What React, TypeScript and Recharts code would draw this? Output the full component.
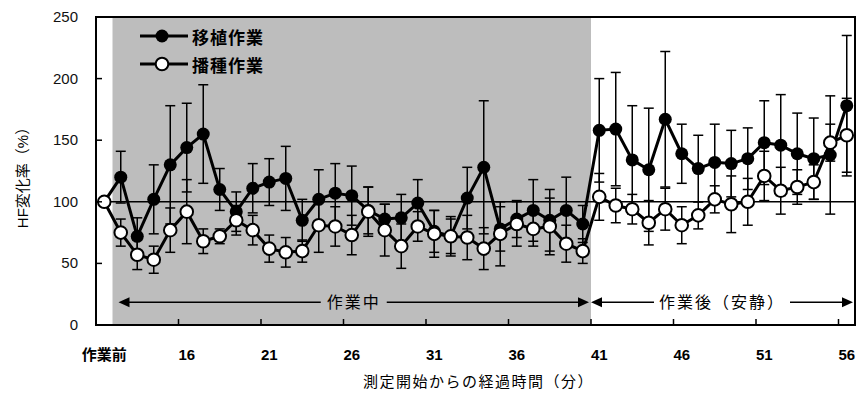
import React from "react";
import {
  LineChart,
  Line,
  XAxis,
  YAxis,
  ErrorBar,
  ReferenceArea,
  ReferenceLine,
  Label,
} from "recharts";

// minutes from start of measurement (first point = before work)
const times = [
  "作業前", "12", "13", "14", "15", "16", "17", "18", "19", "20",
  "21", "22", "23", "24", "25", "26", "27", "28", "29", "30",
  "31", "32", "33", "34", "35", "36", "37", "38", "39", "40",
  "41", "42", "43", "44", "45", "46", "47", "48", "49", "50",
  "51", "52", "53", "54", "55", "56",
];

// 移植作業 (filled)
const transplant = [
  100, 120, 72, 102, 130, 144, 155, 110, 92, 111,
  116, 119, 85, 102, 107, 105, 93, 86, 87, 99,
  76, 72, 103, 128, 78, 86, 93, 85, 93, 82,
  158, 159, 134, 126, 167, 139, 127, 132, 131, 135,
  148, 146, 139, 135, 138, 178,
];
const transplantSd = [
  0, 21, 15, 28, 48, 36, 40, 17, 16, 20,
  19, 26, 17, 24, 24, 24, 19, 12, 19, 19,
  17, 16, 25, 54, 18, 15, 25, 25, 27, 15,
  42, 46, 44, 50, 55, 24, 27, 31, 27, 25,
  34, 41, 33, 33, 48, 57,
];

// 播種作業 (open)
const seeding = [
  100, 75, 57, 53, 77, 92, 68, 72, 85, 77,
  62, 59, 60, 81, 80, 73, 92, 77, 64, 80,
  74, 72, 71, 62, 74, 82, 78, 80, 66, 60,
  104, 97, 94, 83, 94, 81, 89, 102, 98, 100,
  121, 109, 112, 116, 148, 154,
];
const seedingSd = [
  0, 11, 12, 11, 18, 26, 10, 6, 12, 12,
  11, 12, 9, 22, 16, 16, 20, 21, 18, 12,
  19, 14, 18, 17, 26, 18, 14, 23, 15, 10,
  19, 14, 12, 18, 17, 15, 11, 11, 23, 19,
  20, 19, 14, 14, 15, 30,
];

const yTicks = [0, 50, 100, 150, 200, 250];

const data = times.map((t, i) => ({
  t,
  transplant: transplant[i],
  transplantSd: transplantSd[i],
  seeding: seeding[i],
  seedingSd: seedingSd[i],
}));

const W = 857;
const H = 417;
const margin = { top: 17, right: 2, bottom: 62, left: 0 };
const Y_AXIS_W = 96;
const PLOT_W = W - margin.left - margin.right - Y_AXIS_W;
const FONT = "'Liberation Sans', Arial, 'Noto Sans CJK JP', sans-serif";

function XTick({ x, y, payload }: any) {
  const half = PLOT_W / times.length / 2;
  return (
    <g>
      <line x1={x - half} x2={x - half} y1={y} y2={y - 6} stroke="#000" strokeWidth={1.5} />
      <text x={x} y={y + 35} textAnchor="middle" fontSize={15} fontWeight="bold" fill="#000" fontFamily={FONT}>
        {payload.value}
      </text>
    </g>
  );
}

function YTick({ x, y, payload }: any) {
  return (
    <g>
      <line x1={x} x2={x + 6} y1={y} y2={y} stroke="#000" strokeWidth={1.5} />
      <text x={x - 18} y={y + 5} textAnchor="end" fontSize={15} fill="#111" fontFamily={FONT}>
        {payload.value}
      </text>
    </g>
  );
}

function Span({ x, y, width, height, text, inset, gap }: any) {
  const cy = y + height / 2;
  const x1 = x + inset;
  const x2 = x + width - 2;
  const cx = (x1 + x2) / 2;
  return (
    <g>
      <line x1={x1 + 8} x2={cx - gap} y1={cy} y2={cy} stroke="#000" strokeWidth={1.5} />
      <line x1={cx + gap} x2={x2 - 8} y1={cy} y2={cy} stroke="#000" strokeWidth={1.5} />
      <polygon points={`${x1},${cy} ${x1 + 11},${cy - 5} ${x1 + 11},${cy + 5}`} fill="#000" />
      <polygon points={`${x2},${cy} ${x2 - 11},${cy - 5} ${x2 - 11},${cy + 5}`} fill="#000" />
      <text x={cx} y={cy + 6} textAnchor="middle" fontSize={16} letterSpacing={2} fill="#000" fontFamily={FONT}>
        {text}
      </text>
    </g>
  );
}

function BlackDot({ cx, cy }: any) {
  return <circle cx={cx} cy={cy} r={6.5} fill="#000" />;
}

function WhiteDot({ cx, cy }: any) {
  return <circle cx={cx} cy={cy} r={6.3} fill="#fff" stroke="#000" strokeWidth={2} />;
}

function LegendBox() {
  const row = (filled: boolean, text: string) => (
    <div style={{ display: "flex", alignItems: "center", height: 28 }}>
      <svg width={50} height={20}>
        <line x1={0} x2={48} y1={10} y2={10} stroke="#000" strokeWidth={3} />
        {filled ? (
          <circle cx={22} cy={10} r={6.5} fill="#000" />
        ) : (
          <circle cx={22} cy={10} r={6.3} fill="#fff" stroke="#000" strokeWidth={2} />
        )}
      </svg>
      <span style={{ fontSize: 17, fontWeight: "bold", letterSpacing: 1, marginLeft: 2, fontFamily: FONT }}>
        {text}
      </span>
    </div>
  );
  return (
    <div style={{ position: "absolute", left: 140, top: 22 }}>
      {row(true, "移植作業")}
      {row(false, "播種作業")}
    </div>
  );
}

export default function App() {
  return (
    <div style={{ position: "relative", width: W, height: H, background: "#fff" }}>
      <style>{`body{margin:0;}`}</style>
      <LineChart width={W} height={H} data={data} margin={margin}>
        <XAxis
          dataKey="t"
          scale="band"
          interval={4}
          tickLine={false}
          tickSize={0}
          tickMargin={0}
          height={30}
          tick={<XTick />}
          axisLine={{ stroke: "#000", strokeWidth: 2 }}
        >
          <Label
            content={({ viewBox }: any) => (
              <text
                x={viewBox.x + viewBox.width / 2 + 3}
                y={viewBox.y + viewBox.height + 32}
                textAnchor="middle"
                fontSize={15}
                letterSpacing={1.5}
                fill="#000"
                fontFamily={FONT}
              >
                測定開始からの経過時間（分）
              </text>
            )}
          />
        </XAxis>
        <YAxis
          domain={[0, 250]}
          ticks={yTicks}
          width={Y_AXIS_W}
          tickLine={false}
          tickSize={0}
          tickMargin={0}
          tick={<YTick />}
          axisLine={{ stroke: "#000", strokeWidth: 2 }}
        >
          <Label
            content={({ viewBox }: any) => {
              const lx = viewBox.x + 22;
              const ly = viewBox.y + viewBox.height / 2 + 3;
              return (
                <text
                  x={lx}
                  y={ly}
                  transform={`rotate(-90 ${lx} ${ly})`}
                  textAnchor="middle"
                  dominantBaseline="central"
                  fontSize={15}
                  fill="#000"
                  fontFamily={FONT}
                >
                  HF変化率（%）
                </text>
              );
            }}
          />
        </YAxis>
        <ReferenceArea x1="12" x2="40" y1={0} y2={250} fill="#bdbdbd" fillOpacity={1} stroke="none" />
        <ReferenceArea x1="作業前" x2="56" y1={0} y2={250} fill="none" stroke="#000" strokeWidth={2} />
        <ReferenceLine y={100} stroke="#000" strokeWidth={1.5} />
        <ReferenceArea
          x1="12"
          x2="40"
          y1={15}
          y2={22}
          fill="none"
          shape={(p: any) => <Span {...p} text="作業中" inset={6} gap={33} />}
        />
        <ReferenceArea
          x1="41"
          x2="56"
          y1={15}
          y2={22}
          fill="none"
          shape={(p: any) => <Span {...p} text="作業後（安静）" inset={0} gap={68} />}
        />
        <Line
          dataKey="transplant"
          stroke="#000"
          strokeWidth={3}
          dot={<BlackDot />}
          activeDot={false}
          isAnimationActive={false}
        >
          <ErrorBar dataKey="transplantSd" width={5} stroke="#000" strokeWidth={1.5} isAnimationActive={false} />
        </Line>
        <Line
          dataKey="seeding"
          stroke="#000"
          strokeWidth={3}
          dot={<WhiteDot />}
          activeDot={false}
          isAnimationActive={false}
        >
          <ErrorBar dataKey="seedingSd" width={5} stroke="#000" strokeWidth={1.5} isAnimationActive={false} />
        </Line>
      </LineChart>
      <LegendBox />
    </div>
  );
}
